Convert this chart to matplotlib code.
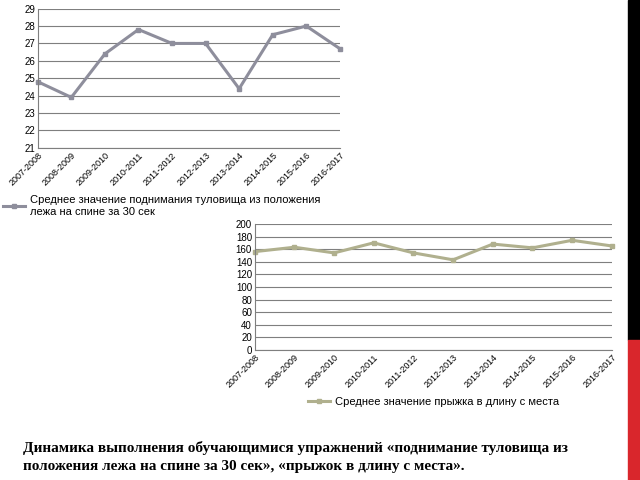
import matplotlib
matplotlib.use("Agg")
import matplotlib.pyplot as plt
from matplotlib.patches import Rectangle

years = ["2007-2008", "2008-2009", "2009-2010", "2010-2011", "2011-2012",
         "2012-2013", "2013-2014", "2014-2015", "2015-2016", "2016-2017"]
situps = [24.8, 23.9, 26.4, 27.8, 27.0, 27.0, 24.4, 27.5, 28.0, 26.7]
jump = [156, 163, 154, 170, 154, 143, 168, 162, 174, 165]

plt.rcParams["font.family"] = ["Liberation Sans", "DejaVu Sans"]

fig = plt.figure(figsize=(6.4, 4.8), dpi=100)


def style(ax, ymin, ymax, step):
    ax.set_xlim(0, len(years) - 1)
    ax.set_ylim(ymin, ymax)
    ax.set_yticks(range(ymin, ymax + 1, step))
    ax.set_xticks(range(len(years)))
    ax.set_xticklabels(years, rotation=45, ha="right", rotation_mode="anchor", fontsize=6.5)
    ax.tick_params(axis="y", labelsize=7, length=0, pad=2)
    ax.tick_params(axis="x", length=0, pad=2)
    ax.grid(axis="y", color="#7f7f7f", linewidth=0.8)
    for s in ["top", "right"]:
        ax.spines[s].set_visible(False)
    ax.spines["left"].set_color("#7f7f7f")
    ax.spines["bottom"].set_color("#7f7f7f")
    ax.set_axisbelow(True)


ax1 = fig.add_axes([0.059, 0.692, 0.472, 0.29])
ax1.plot(range(len(years)), situps, color="#8e8e9c", lw=2.2, marker="s", ms=3.5, clip_on=False,
         label="Среднее значение поднимания туловища из положения\nлежа на спине за 30 сек")
style(ax1, 21, 29, 1)
ax1.legend(loc="upper left", bbox_to_anchor=(-0.13, -0.31), frameon=False, fontsize=8,
           handlelength=2.0, handletextpad=0.4, borderaxespad=0)

ax2 = fig.add_axes([0.398, 0.271, 0.558, 0.2625])
ax2.plot(range(len(years)), jump, color="#b0b08e", lw=2.2, marker="s", ms=3.5, clip_on=False,
         label="Среднее значение прыжка в длину с места")
style(ax2, 0, 200, 20)
ax2.legend(loc="upper center", bbox_to_anchor=(0.5, -0.34), frameon=False, fontsize=8,
           handlelength=2.0, handletextpad=0.4, borderaxespad=0)

fig.patches.append(Rectangle((628 / 640, 140 / 480), 12 / 640, 340 / 480,
                             transform=fig.transFigure, color="black"))
fig.patches.append(Rectangle((628 / 640, 0), 12 / 640, 140 / 480,
                             transform=fig.transFigure, color="#d9262c"))

fig.text(0.036, 0.02,
         "Динамика выполнения обучающимися упражнений «поднимание туловища из\n"
         "положения лежа на спине за 30 сек», «прыжок в длину с места».",
         fontsize=11, fontweight="bold", family=["Liberation Serif", "DejaVu Serif"],
         linespacing=1.5)

fig.savefig("out.png", dpi=100)
